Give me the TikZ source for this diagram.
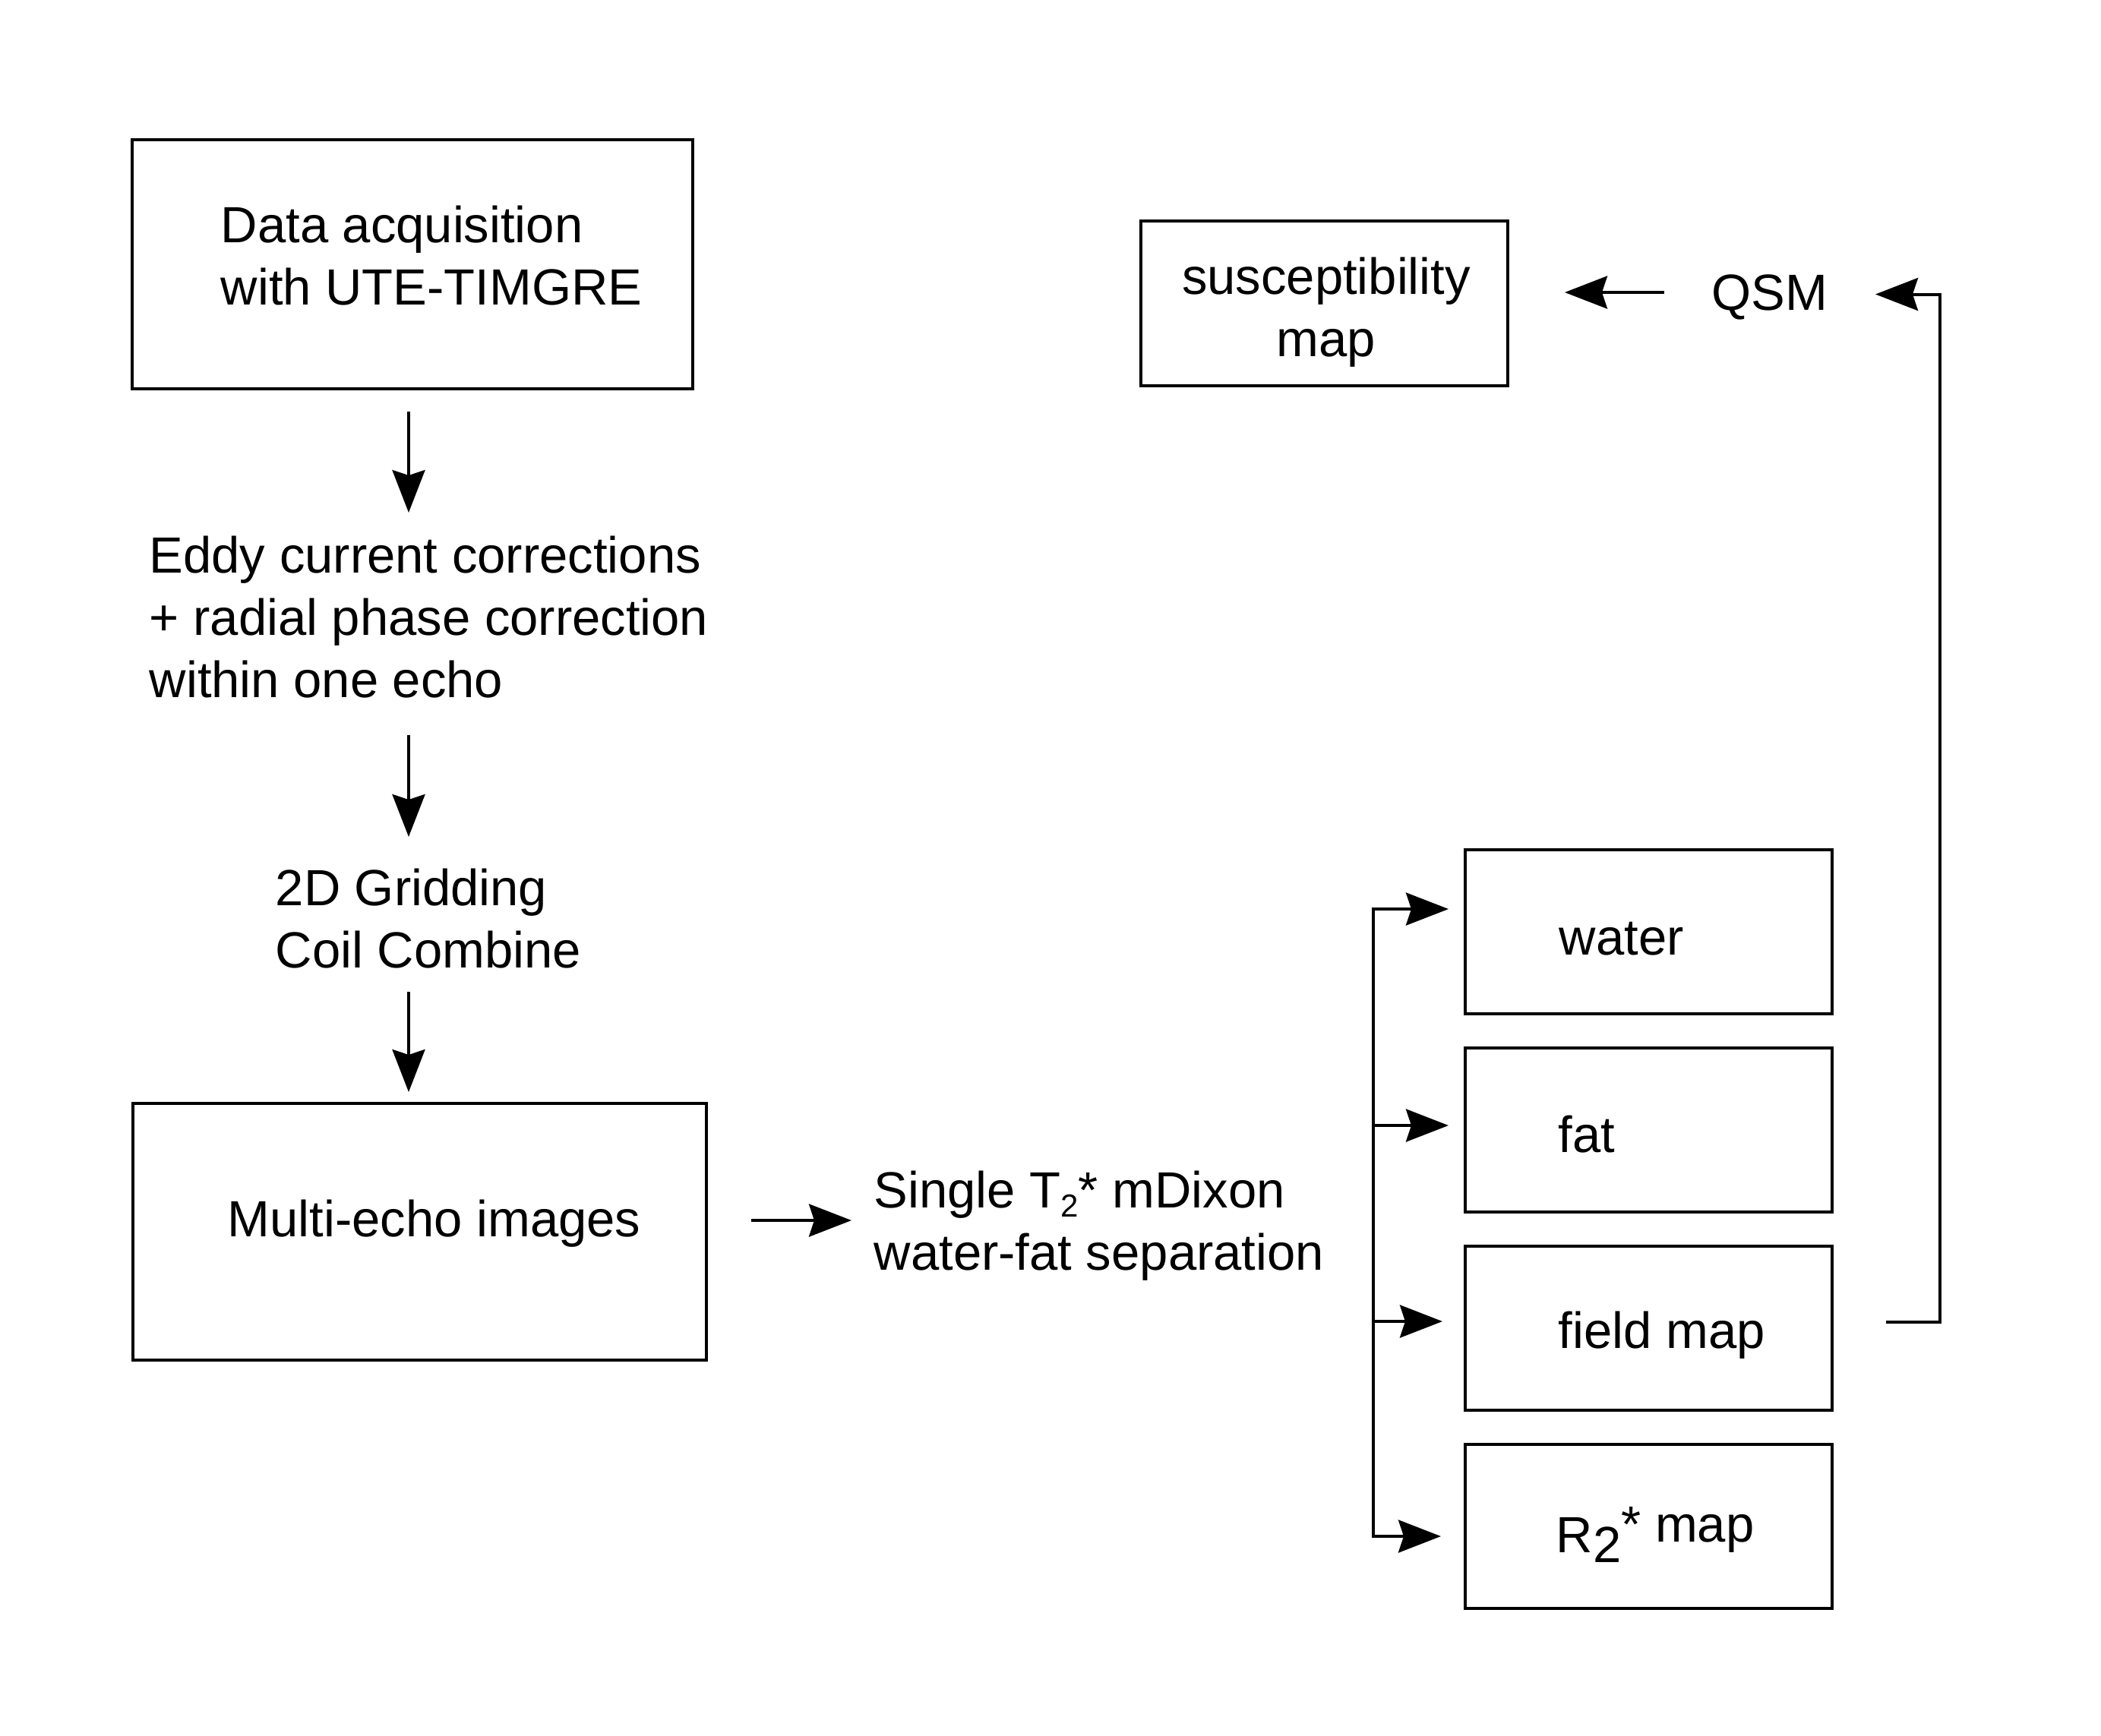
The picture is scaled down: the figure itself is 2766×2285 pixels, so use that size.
\documentclass[tikz,border=0pt]{standalone}
\usepackage{fontspec}
\setmainfont{Liberation Sans}
\usetikzlibrary{arrows.meta}
\begin{document}
\begin{tikzpicture}[x=0.25pt,y=-0.25pt,
  box/.style={draw,line width=1.05pt,rectangle,inner sep=0pt},
  txt/.style={inner sep=0pt,align=left,font=\fontsize{16.75pt}{20.5pt}\selectfont},
  arr/.style={line width=1pt,-{Stealth[length=14pt,width=10.75pt,inset=1.75pt]}},
  wire/.style={line width=1pt}]
\useasboundingbox (0,0) rectangle (2766,2285);
% boxes
\node[box, minimum width=184.5pt, minimum height=82pt] (acq) at (543,348) {};
\node[box, minimum width=120.75pt, minimum height=54.25pt] (sus) at (1743.5,399.5) {};
\node[box, minimum width=188.75pt, minimum height=84.5pt] (multi) at (552.5,1622) {};
\node[box, minimum width=120.75pt, minimum height=54pt] (water) at (2170.5,1227) {};
\node[box, minimum width=120.75pt, minimum height=54pt] (fat) at (2170.5,1488) {};
\node[box, minimum width=120.75pt, minimum height=54pt] (field) at (2170.5,1749) {};
\node[box, minimum width=120.75pt, minimum height=54pt] (rtwo) at (2170.5,2010) {};
% texts (base anchor = baseline of the last line)
\node[txt,anchor=base west] (tacq) at (290,401) {Data acquisition\\with UTE-TIMGRE};
\node[txt,anchor=base west] (teddy) at (196,918) {Eddy current corrections\\+ radial phase correction\\within one echo};
\node[txt,anchor=base west] (tgrid) at (362,1274) {2D Gridding\\Coil Combine};
\node[txt,anchor=base west] (tmulti) at (299,1628) {Multi-echo images};
\node[txt,anchor=base west] (tdixon) at (1150,1672) {Single T\raisebox{-3pt}{\fontsize{10.5pt}{10.5pt}\selectfont 2}* mDixon\\water-fat separation};
\node[txt,anchor=base,align=center] (tsus) at (1746,469) {susceptibility\\map};
\node[txt,anchor=base west] (tqsm) at (2253,408.6) {QSM};
\node[txt,anchor=base west] (twater) at (2052,1257) {water};
\node[txt,anchor=base west] (tfat) at (2051,1517) {fat};
\node[txt,anchor=base west] (tfield) at (2051,1775) {field map};
\node[txt,anchor=base west] (tr2) at (2048,2044.5) {R\raisebox{-3.25pt}{2}\raisebox{3.5pt}{* map}};
% arrow end points
\coordinate (a1s) at (538,542);  \coordinate (a1e) at (538,675);
\coordinate (a2s) at (538,968);  \coordinate (a2e) at (538,1102);
\coordinate (a3s) at (538,1306); \coordinate (a3e) at (538,1438);
\coordinate (a4s) at (989,1607); \coordinate (a4e) at (1121,1607);
\coordinate (bfield) at (1808,1740);
\coordinate (ewater) at (1907,1197);
\coordinate (bfat) at (1808,1482);
\coordinate (efat) at (1907,1482);
\coordinate (efield) at (1899,1740);
\coordinate (er2) at (1897,2023);
\coordinate (fs) at (2483,1741);
\coordinate (fc) at (2554,1741);
\coordinate (qe) at (2469,387.5);
\coordinate (qs) at (2191,385);
\coordinate (se) at (2060,385);
% arrows
\draw[arr] (a1s) -- (a1e);
\draw[arr] (a2s) -- (a2e);
\draw[arr] (a3s) -- (a3e);
\draw[arr] (a4s) -- (a4e);
\draw[arr] (bfield) |- (ewater);
\draw[arr] (bfield) |- (er2);
\draw[arr] (bfat) -- (efat);
\draw[arr] ([xshift=-0.5pt]bfield) -- (efield);
\draw[arr] (fs) -- (fc) |- (qe);
\draw[arr] (qs) -- (se);
\end{tikzpicture}
\end{document}
